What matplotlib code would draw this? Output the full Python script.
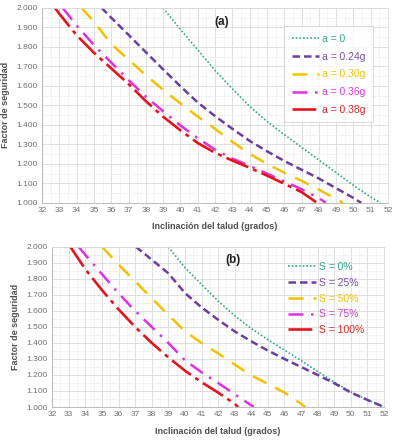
import matplotlib
matplotlib.use('Agg')
import matplotlib.pyplot as plt
from matplotlib.ticker import MultipleLocator, FormatStrFormatter

# ---- panel (a): seismic acceleration ----
A_labels = ['a = 0', 'a = 0.24g', 'a = 0.30g', 'a = 0.36g', 'a = 0.38g']
A_x = [
    [39, 40, 41, 42, 43, 44, 45, 46, 47, 48, 49, 50, 51, 51.55],
    [35.45, 36, 37, 38, 39, 40, 41, 42, 43, 44, 45, 46, 47, 48, 49, 50, 50.45],
    [34.3, 35, 36, 37, 38, 39, 40, 41, 42, 43, 44, 45, 46, 47, 48, 49, 49.4],
    [33.2, 34, 35, 36, 37, 38, 39, 40, 41, 42, 43, 44, 45, 46, 47, 48, 48.4],
    [32.75, 33, 34, 35, 36, 37, 38, 39, 40, 41, 42, 43, 44, 45, 46, 47, 47.9],
]
A_y = [
    [2.0, 1.89, 1.785, 1.68, 1.585, 1.495, 1.418, 1.35, 1.285, 1.22, 1.155, 1.09, 1.03, 1.0],
    [2.0, 1.95, 1.862, 1.773, 1.685, 1.598, 1.515, 1.445, 1.38, 1.318, 1.265, 1.215, 1.17, 1.125, 1.075, 1.025, 1.0],
    [2.0, 1.93, 1.815, 1.735, 1.655, 1.58, 1.51, 1.443, 1.38, 1.313, 1.252, 1.20, 1.155, 1.113, 1.068, 1.02, 1.0],
    [2.0, 1.91, 1.81, 1.72, 1.63, 1.545, 1.47, 1.397, 1.332, 1.273, 1.227, 1.19, 1.15, 1.11, 1.07, 1.025, 1.0],
    [2.0, 1.97, 1.86, 1.77, 1.69, 1.61, 1.522, 1.442, 1.372, 1.307, 1.257, 1.217, 1.18, 1.14, 1.098, 1.055, 1.0],
]

# ---- panel (b): degree of saturation ----
S_labels = ['S = 0%', 'S = 25%', 'S = 50%', 'S = 75%', 'S = 100%']
S_x = [
    [39, 40, 41, 42, 43, 44, 45, 46, 47, 48, 49, 50, 51, 52],
    [37.05, 38, 39, 40, 41, 42, 43, 44, 45, 46, 47, 48, 49, 50, 51, 52],
    [35, 36, 37, 38, 39, 40, 41, 42, 43, 44, 45, 46, 47, 47.25],
    [33.6, 34, 35, 36, 37, 38, 39, 40, 41, 42, 43, 44, 44.15],
    [33.1, 34, 35, 36, 37, 38, 39, 40, 41, 42, 43, 43.2],
]
S_y = [
    [2.0, 1.87, 1.765, 1.662, 1.57, 1.49, 1.42, 1.355, 1.29, 1.222, 1.155, 1.095, 1.045, 1.0],
    [2.0, 1.92, 1.835, 1.712, 1.622, 1.545, 1.472, 1.41, 1.352, 1.30, 1.25, 1.20, 1.148, 1.09, 1.044, 1.0],
    [2.0, 1.89, 1.785, 1.68, 1.575, 1.473, 1.40, 1.335, 1.265, 1.197, 1.145, 1.09, 1.02, 1.0],
    [2.0, 1.95, 1.83, 1.71, 1.60, 1.50, 1.40, 1.292, 1.217, 1.15, 1.08, 1.01, 1.0],
    [2.0, 1.86, 1.73, 1.61, 1.50, 1.40, 1.31, 1.227, 1.155, 1.09, 1.02, 1.0],
]

colors     = ['#2ea88c', '#6a3f9e', '#f2c200', '#e030e0', '#e4141e']
textcolors = ['#30a88a', '#7a52a8', '#ecc40a', '#d23ed2', '#d52a2a']
dashes     = [(1, 1.2), (3, 1.6), (6, 4), (6, 3, 1, 3), (9, 2, 1.5, 2)]
widths     = [1.2, 1.8, 1.8, 1.8, 1.9]

plt.rcParams['font.family'] = ['Liberation Sans', 'DejaVu Sans']


def PlotPanel(ax, X, Y, labels, tag, tagpos, legpos, frame):
	for i in range(len(X)):
		ax.plot(X[i], Y[i], color=colors[i], lw=widths[i], dashes=dashes[i], label=labels[i])
	ax.set_xlim(32, 52)
	ax.set_ylim(1.0, 2.0)
	ax.xaxis.set_major_locator(MultipleLocator(1))
	ax.yaxis.set_major_locator(MultipleLocator(0.1))
	ax.xaxis.set_minor_locator(MultipleLocator(0.5))
	ax.yaxis.set_minor_locator(MultipleLocator(0.05))
	ax.yaxis.set_major_formatter(FormatStrFormatter('%.3f'))
	ax.grid(which='major', color='#d9d9d9', lw=0.6)
	ax.grid(which='minor', color='#efefef', lw=0.5)
	ax.set_axisbelow(True)
	ax.tick_params(which='both', length=0, labelsize=6, labelcolor='#707070', pad=3)
	for s in ax.spines.values():
		s.set_color('#d9d9d9')
		s.set_linewidth(0.6)
	ax.spines['left'].set_color('#b0b0b0')
	ax.spines['bottom'].set_color('#b0b0b0')
	ax.set_xlabel('Inclinación del talud (grados)', fontsize=6.5, fontweight='bold', color='#505050', labelpad=6)
	ax.set_ylabel('Factor de seguridad', fontsize=6.5, fontweight='bold', color='#505050', labelpad=5)
	ax.text(tagpos[0], tagpos[1], tag, transform=ax.transAxes, fontsize=8.5, fontweight='bold',
	        color='#202020', ha='center', va='center')
	leg = ax.legend(loc='upper left', bbox_to_anchor=legpos, fontsize=7.5, handlelength=2.6,
	                handletextpad=0.3, labelspacing=0.75 if frame else 0.55, frameon=frame,
	                fancybox=False, borderpad=0.7, borderaxespad=0)
	if frame:
		leg.get_frame().set_edgecolor('#c8c8c8')
		leg.get_frame().set_linewidth(0.6)
	for t, c in zip(leg.get_texts(), textcolors):
		t.set_color(c)


fig = plt.figure(figsize=(3.98, 4.40), dpi=100)
axA = fig.add_axes([0.1055, 0.539, 0.8695, 0.443])
axB = fig.add_axes([0.131, 0.075, 0.834, 0.364])

PlotPanel(axA, A_x, A_y, A_labels, '(a)', (0.52, 0.928), (0.70, 0.905), True)
PlotPanel(axB, S_x, S_y, S_labels, '(b)', (0.545, 0.92), (0.69, 0.95), False)

fig.savefig('out.png', dpi=100)
